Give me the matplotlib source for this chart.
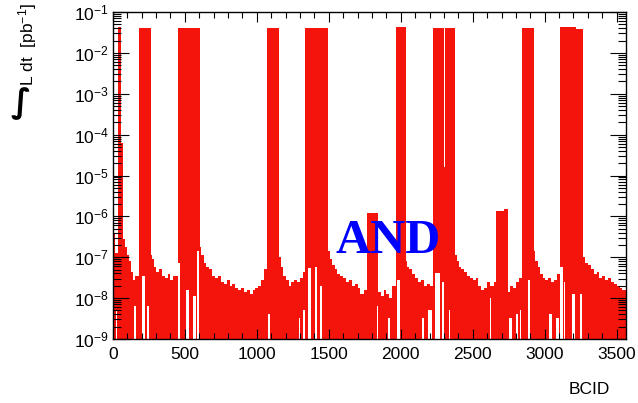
import numpy as np
import matplotlib
matplotlib.use("Agg")
import matplotlib.pyplot as plt
from matplotlib.ticker import MultipleLocator, LogLocator, LogFormatterMathtext, NullFormatter

plt.rcParams['font.family'] = ['Liberation Sans', 'DejaVu Sans']
plt.rcParams['mathtext.fontset'] = 'custom'
plt.rcParams['mathtext.rm'] = 'Liberation Sans'
plt.rcParams['mathtext.it'] = 'Liberation Sans:italic'
plt.rcParams['mathtext.bf'] = 'Liberation Sans:bold'

# Luminosity per BCID (log10 of pb^-1), as a step histogram: bin starts + levels
bcid_start = [0, 15, 35, 55, 68, 82, 96, 110, 125, 140, 155,
              180, 262, 272, 285, 300, 320, 340, 360, 380, 400, 420,
              449, 604, 615, 630, 650, 670, 690, 710, 730, 750, 770, 790,
              810, 830, 850, 870, 890, 910, 930, 950, 970, 990, 1010, 1030, 1050,
              1071, 1154, 1165, 1180, 1200, 1220, 1240, 1260, 1280, 1300, 1320,
              1337, 1497, 1510, 1525, 1540, 1560, 1580, 1600, 1620, 1640, 1660,
              1680, 1700, 1720, 1745,
              1765, 1840, 1860, 1880, 1900, 1920, 1940,
              1964, 2033, 2045, 2060, 2080, 2100, 2120, 2140, 2160, 2180, 2200,
              2225, 2300, 2306, 2378, 2390, 2405, 2420, 2440, 2460, 2480, 2500,
              2520, 2540, 2560, 2580, 2600, 2620, 2645,
              2663, 2715, 2742, 2760, 2780, 2800, 2820,
              2845, 2924, 2935, 2950, 2965, 2985, 3005, 3025, 3045, 3065, 3085,
              3109, 3220, 3268, 3280, 3300, 3320, 3340, 3360, 3380, 3400, 3420,
              3440, 3460, 3480, 3500, 3520, 3540]
bcid_end = 3564
log_lumi = [-6.4, -6.9, -1.37, -4.2, -6.55, -6.75, -6.95, -7.1, -7.35, -7.55, -7.45,
            -1.38, -6.95, -7.05, -7.25, -7.35, -7.3, -7.45, -7.5, -7.4, -7.55, -7.45,
            -1.38, -6.75, -6.95, -7.15, -7.25, -7.3, -7.45, -7.5, -7.45, -7.6, -7.65, -7.55,
            -7.7, -7.65, -7.75, -7.8, -7.75, -7.85, -7.8, -7.9, -7.8, -7.75, -7.7, -7.55, -7.3,
            -1.39, -7.0, -7.25, -7.45, -7.55, -7.7, -7.6, -7.55, -7.6, -7.5, -7.35,
            -1.38, -6.85, -7.05, -7.2, -7.3, -7.4, -7.45, -7.5, -7.6, -7.55, -7.7,
            -7.65, -7.75, -7.9, -7.8,
            -5.92, -7.85, -7.95, -7.8, -7.9, -8.0, -7.7,
            -1.37, -7.1, -7.25, -7.3, -7.4, -7.5, -7.6, -7.55, -7.7, -7.65, -7.7,
            -1.39, -4.8, -1.40, -6.95, -7.1, -7.25, -7.3, -7.35, -7.45, -7.5, -7.55,
            -7.5, -7.7, -7.8, -7.75, -7.6, -7.7, -7.6,
            -5.88, -5.83, -7.85, -7.7, -7.75, -7.6, -7.5,
            -1.38, -6.85, -7.1, -7.25, -7.4, -7.5, -7.55, -7.5, -7.6, -7.55, -7.4,
            -1.37, -1.41, -7.0, -7.15, -7.2, -7.3, -7.4, -7.35, -7.5, -7.45, -7.55,
            -7.5, -7.6, -7.65, -7.7, -7.75, -7.8]

# empty bunches showing as white slits near the floor: start, end, log10 top
gap_start = [20, 145, 205, 235, 455, 508, 553, 585, 1080, 1290, 1320, 1357, 1404, 1438,
             1832, 1912, 1972, 2145, 2190, 2237, 2284, 2338, 2500, 2618, 2750, 2800,
             2826, 2885, 3030, 3080, 3104, 3132, 3192, 3243]
gap_end = [30, 158, 220, 250, 468, 528, 575, 598, 1094, 1300, 1335, 1378, 1418, 1455,
           1842, 1925, 1992, 2160, 2215, 2270, 2298, 2344, 2505, 2624, 2770, 2815,
           2838, 2900, 3050, 3098, 3127, 3144, 3208, 3262]
gap_top = [-8.3, -8.2, -7.47, -8.2, -7.14, -7.8, -7.96, -6.85, -8.4, -8.5, -8.3, -7.26, -7.23, -7.7,
           -8.2, -8.5, -7.55, -8.5, -8.3, -7.38, -7.6, -8.3, -8.0, -8.0, -8.5, -8.4,
           -8.3, -7.55, -8.4, -8.5, -7.23, -7.6, -7.9, -7.9]

RED = '#f5140c'
YMIN, YMAX = 1e-9, 1e-1

fig = plt.figure(figsize=(6.38, 4.03), dpi=100)
ax = fig.add_axes([0.177, 0.159, 0.804, 0.811])

edges = np.array(bcid_start + [bcid_end], dtype=float)
vals = 10.0 ** np.array(log_lumi)
ax.stairs(vals, edges, fill=True, baseline=YMIN, color=RED, lw=0)

g0 = np.array(gap_start, dtype=float)
g1 = np.array(gap_end, dtype=float)
gt = 10.0 ** np.array(gap_top)
ax.bar(g0, gt - YMIN, width=g1 - g0, bottom=YMIN, align='edge', color='white', lw=0)

ax.set_yscale('log')
ax.set_xlim(0, 3564)
ax.set_ylim(YMIN, YMAX)

ax.xaxis.set_major_locator(MultipleLocator(500))
ax.xaxis.set_minor_locator(MultipleLocator(100))
ax.yaxis.set_major_locator(LogLocator(base=10, numticks=20))
ax.yaxis.set_minor_locator(LogLocator(base=10, subs=np.arange(2, 10), numticks=20))
ax.yaxis.set_major_formatter(LogFormatterMathtext())
ax.yaxis.set_minor_formatter(NullFormatter())

ax.tick_params(axis='both', which='both', direction='in', top=True, right=True,
               labelsize=12.5, width=0.8)
ax.tick_params(axis='x', which='major', length=7.2, pad=6)
ax.tick_params(axis='x', which='minor', length=4.0)
ax.tick_params(axis='y', which='major', length=11.3, pad=3)
ax.tick_params(axis='y', which='minor', length=5.8)
for s in ax.spines.values():
    s.set_linewidth(1.0)

# axis titles, ROOT style
fig.text(610 / 638, 1 - 389 / 403, "BCID", ha='right', va='center', fontsize=12.5)
fig.text(28 / 638, 1 - 45 / 403, r"L dt  [pb$^{-1}$]", rotation=90,
         ha='center', va='center', fontsize=12.5)
fig.text(21 / 638, 1 - 104 / 403, "\u222b", rotation=0,
         ha='center', va='center', fontsize=24, fontweight='bold',
         family=['DejaVu Sans'])

ax.text(1910, 10 ** -6.6, "AND", color='#0000ff', fontsize=35, fontweight='bold',
        family=['Liberation Serif'], ha='center', va='center')

fig.savefig("out.png", dpi=100)
